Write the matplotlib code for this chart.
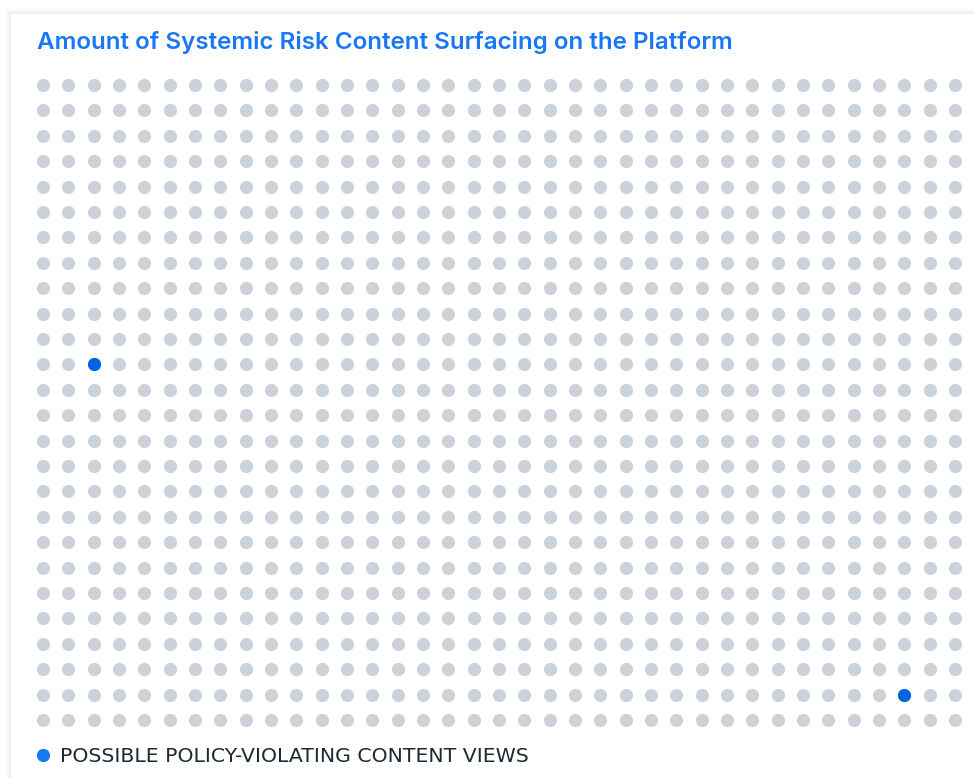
import numpy as np
import matplotlib.pyplot as plt
from matplotlib.patches import Rectangle
from matplotlib.lines import Line2D

# grid of content views, a few flagged ones in blue
n_cols = 37
n_rows = 26
flag_cols = [2, 34]
flag_rows = [11, 24]

title = "Amount of Systemic Risk Content Surfacing on the Platform"
legend_label = "POSSIBLE POLICY-VIOLATING CONTENT VIEWS"

W, H = 974, 778
fig = plt.figure(figsize=(W / 100, H / 100), dpi=100)
fig.patch.set_facecolor("white")

# card with a soft shadow
for i, a in enumerate([0.025, 0.02, 0.015, 0.01]):
    off = (i + 1) * 1.5
    fig.add_artist(Rectangle(((11 - off) / W, 0), (W - 11 + off) / W, (H - 14 + off) / H,
                             transform=fig.transFigure, facecolor="black", alpha=a,
                             edgecolor="none", zorder=-2))
fig.add_artist(Rectangle((11 / W, 0), (W - 11) / W, (H - 14) / H,
                         transform=fig.transFigure, facecolor="white",
                         edgecolor="none", zorder=-1))

# axes so that dot centres land on the grid
dx = (955 - 43) / (n_cols - 1)
dy = (720 - 85) / (n_rows - 1)
left = 43 - dx / 2
top = 85 - dy / 2
ax = fig.add_axes([left / W, 1 - (top + dy * n_rows) / H, dx * n_cols / W, dy * n_rows / H])
ax.set_xlim(-0.5, n_cols - 0.5)
ax.set_ylim(n_rows - 0.5, -0.5)
ax.axis("off")

xx, yy = np.meshgrid(np.arange(n_cols), np.arange(n_rows))
ax.scatter(xx.ravel(), yy.ravel(), s=90, color="#cbd2d9", linewidths=0)
ax.scatter(flag_cols, flag_rows, s=90, color="#0064e0", linewidths=0, zorder=3)

fig.text(37 / W, 1 - 49 / H, title, fontsize=17.4, fontweight="semibold",
         family=["Inter", "DejaVu Sans"], color="#1877f2", ha="left", va="baseline")

handle = Line2D([], [], marker="o", linestyle="none", markersize=9.5,
                markerfacecolor="#1877f2", markeredgewidth=0)
fig.legend([handle], [legend_label], loc="center left",
           bbox_to_anchor=(13 / W, 1 - 757 / H), frameon=False,
           handletextpad=0.32, handlelength=1.1,
           prop={"family": ["DejaVu Sans"], "size": 14.7},
           labelcolor="#1c2b33")

plt.savefig("out.png", dpi=100)
